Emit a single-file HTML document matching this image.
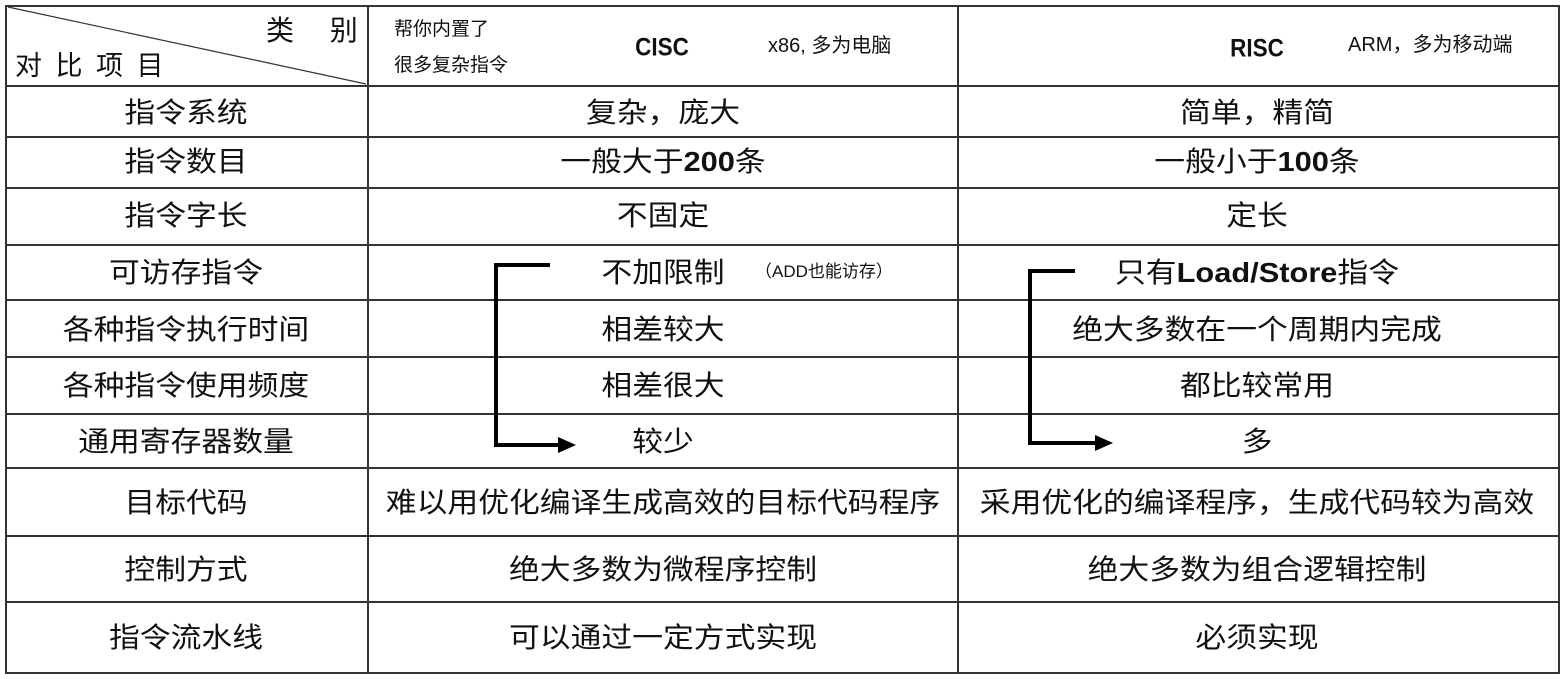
<!DOCTYPE html>
<html><head><meta charset="utf-8"><style>
html,body{margin:0;padding:0;background:#fff;}
body{width:1561px;height:679px;position:relative;overflow:hidden;font-family:"Liberation Sans","Noto Sans CJK SC",sans-serif;color:#111;}
.t{position:absolute;white-space:nowrap;transform:translate(-50%,-50%) scaleX(1.1);font-size:28px;line-height:1;}
.s{position:absolute;white-space:nowrap;font-size:19px;line-height:1;}
svg{position:absolute;left:0;top:0;}
</style></head><body>
<svg width="1561" height="679">
<g stroke="#333" stroke-width="2" fill="none">
<rect x="6" y="6" width="1553" height="667"/>
<line x1="368" y1="6" x2="368" y2="673"/>
<line x1="958" y1="6" x2="958" y2="673"/>
<line x1="6" y1="86" x2="1559" y2="86"/>
<line x1="6" y1="137" x2="1559" y2="137"/>
<line x1="6" y1="188" x2="1559" y2="188"/>
<line x1="6" y1="245" x2="1559" y2="245"/>
<line x1="6" y1="300" x2="1559" y2="300"/>
<line x1="6" y1="357" x2="1559" y2="357"/>
<line x1="6" y1="414" x2="1559" y2="414"/>
<line x1="6" y1="468" x2="1559" y2="468"/>
<line x1="6" y1="536" x2="1559" y2="536"/>
<line x1="6" y1="602" x2="1559" y2="602"/>
<line x1="8" y1="7" x2="366" y2="84" stroke-width="1.2"/>
</g>
<g stroke="#000" stroke-width="4" fill="none">
<polyline points="550,265 496,265 496,445 562,445"/>
<polyline points="1075,271 1030,271 1030,443 1098,443"/>
</g>
<polygon points="576,445 558,437 558,453" fill="#000"/>
<polygon points="1113,443 1095,435 1095,451" fill="#000"/>
</svg>
<div class="s" style="left:266px;top:17px;font-size:28px;letter-spacing:14px;">类 别</div>
<div class="s" style="left:15px;top:53px;font-size:27px;letter-spacing:3px;">对 比 项 目</div>
<div class="s" style="left:394px;top:20px;">帮你内置了</div>
<div class="s" style="left:394px;top:56px;">很多复杂指令</div>
<div class="t" style="left:662px;top:48px;font-weight:bold;font-size:25px;transform:translate(-50%,-50%) scaleX(0.9);">CISC</div>
<div class="s" style="left:768px;top:36px;font-size:20px;">x86, 多为电脑</div>
<div class="t" style="left:1257px;top:49px;font-weight:bold;font-size:25px;transform:translate(-50%,-50%) scaleX(0.9);">RISC</div>
<div class="s" style="left:1348px;top:35px;font-size:20px;">ARM，多为移动端</div>

<div class="t" style="left:186px;top:113px;">指令系统</div>
<div class="t" style="left:186px;top:162px;">指令数目</div>
<div class="t" style="left:186px;top:216px;">指令字长</div>
<div class="t" style="left:186px;top:273px;">可访存指令</div>
<div class="t" style="left:186px;top:330px;">各种指令执行时间</div>
<div class="t" style="left:186px;top:386px;">各种指令使用频度</div>
<div class="t" style="left:186px;top:442px;">通用寄存器数量</div>
<div class="t" style="left:186px;top:503px;">目标代码</div>
<div class="t" style="left:186px;top:570px;">控制方式</div>
<div class="t" style="left:186px;top:638px;">指令流水线</div>

<div class="t" style="left:663px;top:113px;">复杂，庞大</div>
<div class="t" style="left:663px;top:162px;">一般大于<b>200</b>条</div>
<div class="t" style="left:663px;top:216px;">不固定</div>
<div class="t" style="left:663px;top:273px;">不加限制</div>
<div class="s" style="left:755px;top:263px;font-size:17px;">（ADD也能访存）</div>
<div class="t" style="left:663px;top:330px;">相差较大</div>
<div class="t" style="left:663px;top:386px;">相差很大</div>
<div class="t" style="left:663px;top:442px;">较少</div>
<div class="t" style="left:663px;top:503px;">难以用优化编译生成高效的目标代码程序</div>
<div class="t" style="left:663px;top:570px;">绝大多数为微程序控制</div>
<div class="t" style="left:663px;top:638px;">可以通过一定方式实现</div>

<div class="t" style="left:1257px;top:113px;">简单，精简</div>
<div class="t" style="left:1257px;top:162px;">一般小于<b>100</b>条</div>
<div class="t" style="left:1257px;top:216px;">定长</div>
<div class="t" style="left:1257px;top:273px;">只有<b>Load/Store</b>指令</div>
<div class="t" style="left:1257px;top:330px;">绝大多数在一个周期内完成</div>
<div class="t" style="left:1257px;top:386px;">都比较常用</div>
<div class="t" style="left:1257px;top:442px;">多</div>
<div class="t" style="left:1257px;top:503px;">采用优化的编译程序，生成代码较为高效</div>
<div class="t" style="left:1257px;top:570px;">绝大多数为组合逻辑控制</div>
<div class="t" style="left:1257px;top:638px;">必须实现</div>
</body></html>
